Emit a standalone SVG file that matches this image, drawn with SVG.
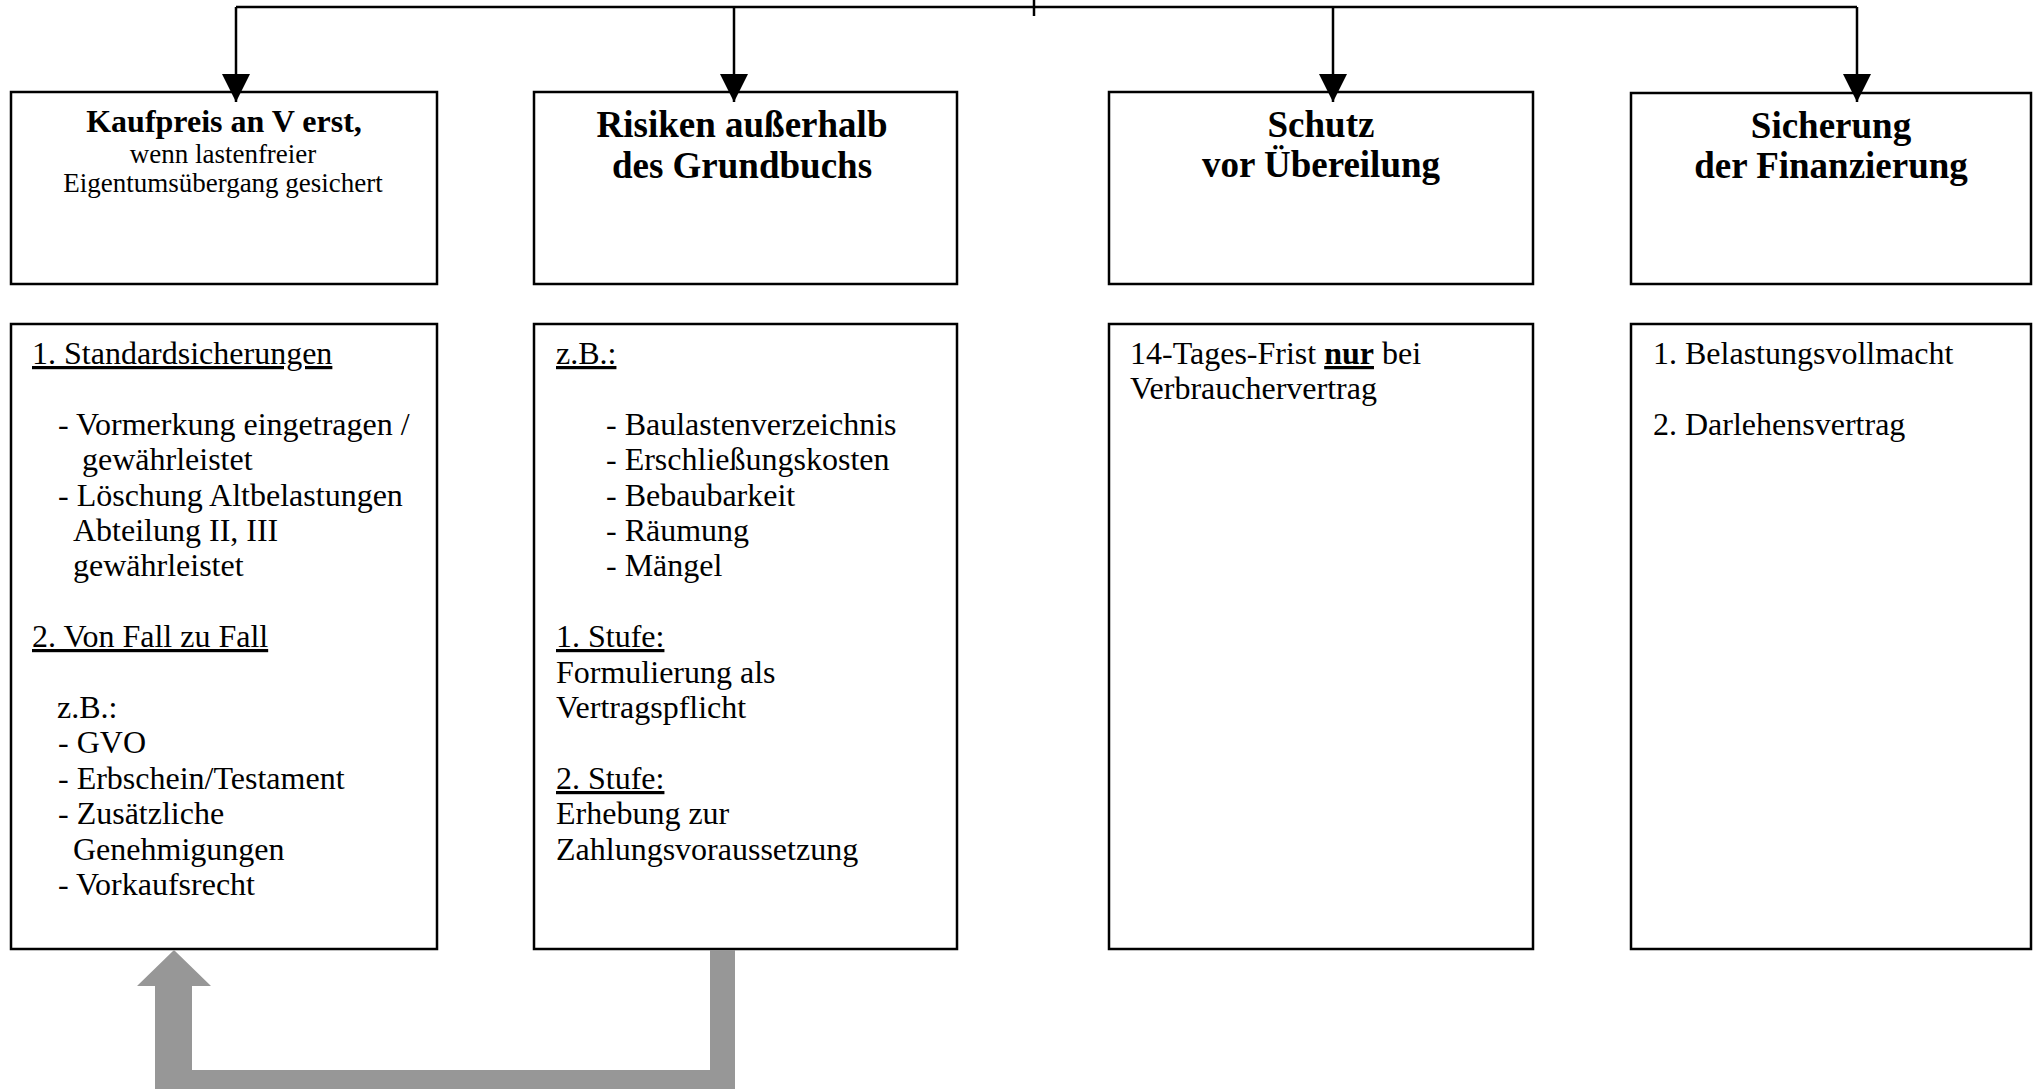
<svg xmlns="http://www.w3.org/2000/svg" width="2036" height="1089" viewBox="0 0 2036 1089">
<style>
  .box { fill: #fff; stroke: #000; stroke-width: 2.5; }
  .line { fill: none; stroke: #000; stroke-width: 2.5; }
  .t { font-family: "Liberation Serif", "Times New Roman", serif; fill: #000; }
  .title { font-size: 37px; font-weight: bold; text-anchor: middle; }
  .body { font-size: 32px; }
  .u { text-decoration: underline; }
</style>
<defs>
  <marker id="ah" markerWidth="28" markerHeight="28" refX="28" refY="14" orient="auto" markerUnits="userSpaceOnUse">
    <path d="M0,0 L28,14 L0,28 Z" fill="#000"/>
  </marker>
</defs>
<rect width="2036" height="1089" fill="#fff"/>
<g id="node-kaufpreis">
  <rect class="box" x="11" y="92" width="426" height="192"/>
  <text class="t" x="224" y="132" text-anchor="middle" font-size="32" font-weight="bold">Kaufpreis an V erst,</text>
  <text class="t" x="223" y="163" text-anchor="middle" font-size="27">wenn lastenfreier</text>
  <text class="t" x="223" y="192" text-anchor="middle" font-size="27">Eigentumsübergang gesichert</text>
</g>
<g id="node-risiken">
  <rect class="box" x="534" y="92" width="423" height="192"/>
  <text class="t title" x="742" y="137">Risiken außerhalb</text>
  <text class="t title" x="742" y="178">des Grundbuchs</text>
</g>
<g id="node-schutz">
  <rect class="box" x="1109" y="92" width="424" height="192"/>
  <text class="t title" x="1321" y="137">Schutz</text>
  <text class="t title" x="1321" y="177">vor Übereilung</text>
</g>
<g id="node-sicherung">
  <rect class="box" x="1631" y="93" width="400" height="191"/>
  <text class="t title" x="1831" y="138">Sicherung</text>
  <text class="t title" x="1831" y="178">der Finanzierung</text>
</g>
<g id="node-standard">
  <rect class="box" x="11" y="324" width="426" height="625"/>
  <text class="t body u" x="32" y="364">1. Standardsicherungen</text>
  <text class="t body" x="58" y="435">- Vormerkung eingetragen /</text>
  <text class="t body" x="82" y="470">gewährleistet</text>
  <text class="t body" x="58" y="506">- Löschung Altbelastungen</text>
  <text class="t body" x="73" y="541">Abteilung II, III</text>
  <text class="t body" x="73" y="576">gewährleistet</text>
  <text class="t body u" x="32" y="647">2. Von Fall zu Fall</text>
  <text class="t body" x="57" y="718">z.B.:</text>
  <text class="t body" x="58" y="753">- GVO</text>
  <text class="t body" x="58" y="789">- Erbschein/Testament</text>
  <text class="t body" x="58" y="824">- Zusätzliche</text>
  <text class="t body" x="73" y="860">Genehmigungen</text>
  <text class="t body" x="58" y="895">- Vorkaufsrecht</text>
</g>
<g id="node-beispiele">
  <rect class="box" x="534" y="324" width="423" height="625"/>
  <text class="t body u" x="556" y="364">z.B.:</text>
  <text class="t body" x="606" y="435">- Baulastenverzeichnis</text>
  <text class="t body" x="606" y="470">- Erschließungskosten</text>
  <text class="t body" x="606" y="506">- Bebaubarkeit</text>
  <text class="t body" x="606" y="541">- Räumung</text>
  <text class="t body" x="606" y="576">- Mängel</text>
  <text class="t body u" x="556" y="647">1. Stufe:</text>
  <text class="t body" x="556" y="683">Formulierung als</text>
  <text class="t body" x="556" y="718">Vertragspflicht</text>
  <text class="t body u" x="556" y="789">2. Stufe:</text>
  <text class="t body" x="556" y="824">Erhebung zur</text>
  <text class="t body" x="556" y="860">Zahlungsvoraussetzung</text>
</g>
<g id="node-frist">
  <rect class="box" x="1109" y="324" width="424" height="625"/>
  <text class="t body" x="1130" y="364">14-Tages-Frist <tspan font-weight="bold" text-decoration="underline">nur</tspan> bei</text>
  <text class="t body" x="1130" y="399">Verbrauchervertrag</text>
</g>
<g id="node-finanzierung">
  <rect class="box" x="1631" y="324" width="400" height="625"/>
  <text class="t body" x="1653" y="364">1. Belastungsvollmacht</text>
  <text class="t body" x="1653" y="435">2. Darlehensvertrag</text>
</g>
<g id="connectors">
  <path class="line" d="M236,7 H1857"/>
  <path class="line" d="M1034,0 V16"/>
  <path class="line" d="M236,7 V102" marker-end="url(#ah)"/>
  <path class="line" d="M734,7 V102" marker-end="url(#ah)"/>
  <path class="line" d="M1333,7 V102" marker-end="url(#ah)"/>
  <path class="line" d="M1857,7 V102" marker-end="url(#ah)"/>
  <polygon points="710,950 735,950 735,1089 155,1089 155,986 137,986 174,950 211,986 192,986 192,1070 710,1070" fill="#979797"/>
</g>
</svg>
